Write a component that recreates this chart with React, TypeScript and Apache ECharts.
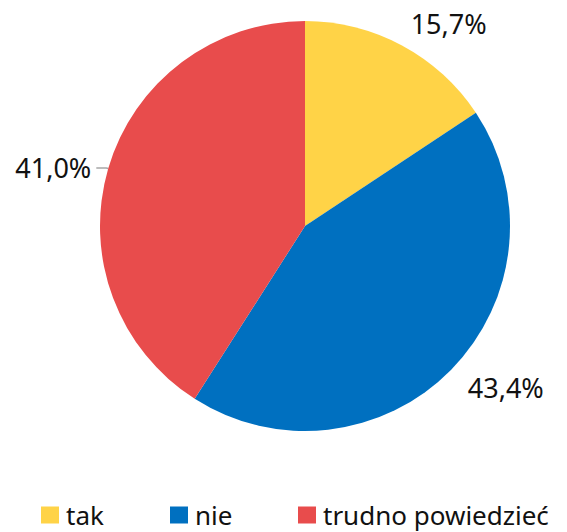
import React, { useEffect, useRef } from "react";
import * as echarts from "echarts";

const categories = ["tak", "nie", "trudno powiedzieć"];
const values = [15.7, 43.4, 41.0];
const colors = ["#FFD347", "#0070C0", "#E84C4C"];
const legendLefts = [41, 170, 298];
const labelShifts = [
  [-10, -11],
  [-5, 9],
  [0, 0],
];

export default function App() {
  const ref = useRef<HTMLDivElement>(null);
  useEffect(() => {
    document.body.style.margin = "0";
    const chart = echarts.init(ref.current!, null, { renderer: "svg" });
    chart.setOption({
      animation: false,
      textStyle: { fontFamily: "Noto Sans" },
      legend: categories.map((c, i) => ({
        data: [c],
        left: legendLefts[i],
        top: 502,
        padding: 0,
        icon: "rect",
        itemWidth: 18,
        itemHeight: 17,
        textStyle: { fontSize: 26, lineHeight: 26, color: "#111", fontFamily: "Noto Sans", padding: [0, 0, 0, 2] },
      })),
      series: [
        {
          type: "pie",
          center: [305, 226],
          radius: 205,
          startAngle: 90,
          clockwise: true,
          data: categories.map((c, i) => ({
            name: c,
            value: values[i],
            itemStyle: { color: colors[i] },
            labelLine: i === 2 ? { show: true, length: 2, length2: 10 } : { show: false },
          })),
          label: {
            show: true,
            position: "outside",
            overflow: "none",
            formatter: (p: any) => p.value.toFixed(1).replace(".", ",") + "%",
            fontSize: 27,
            color: "#111",
            fontFamily: "Noto Sans",
          },
          labelLayout: (p: any) => ({ dx: labelShifts[p.dataIndex][0], dy: labelShifts[p.dataIndex][1] }),
          labelLine: {
            length: 12,
            length2: 8,
            lineStyle: { color: "#A6A6A6", width: 1.5 },
          },
        },
      ],
    });
    return () => chart.dispose();
  }, []);
  return <div ref={ref} style={{ width: 567, height: 532, position: "absolute", left: 0, top: 0 }} />;
}
